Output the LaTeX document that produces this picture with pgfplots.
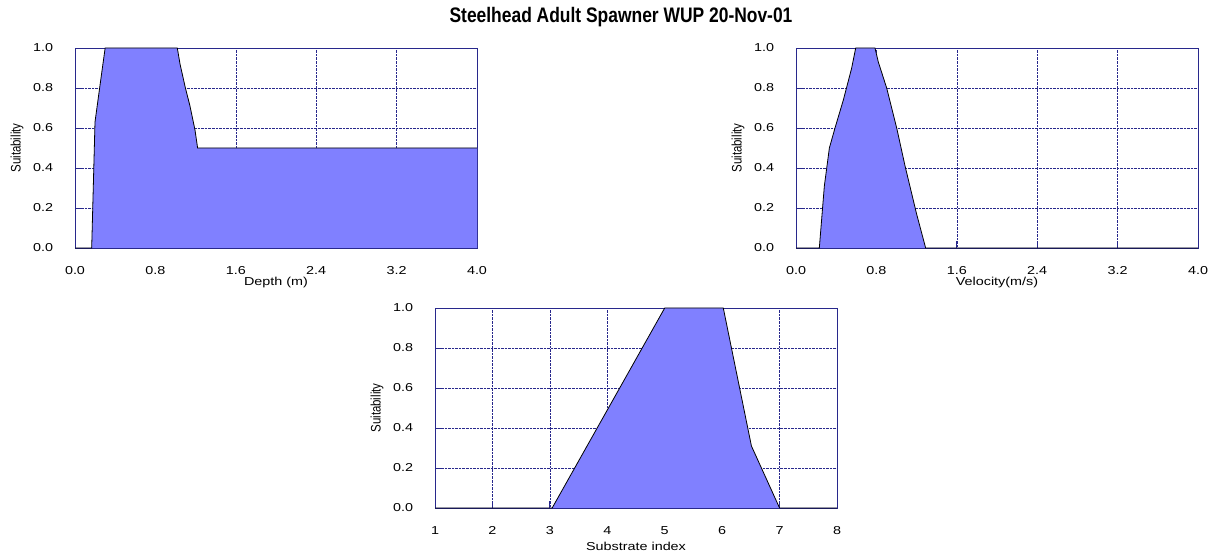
\documentclass[border=0pt]{standalone}
\usepackage{fontspec}
\setmainfont{Liberation Sans}
\usepackage{pgfplots}
\pgfplotsset{compat=1.18}
\definecolor{fillc}{RGB}{128,128,255}
\definecolor{framec}{RGB}{40,40,140}
\pgfplotsset{
  suit/.style={
    scale only axis, width=402bp, height=200bp,
    anchor=south west,
    ymin=0, ymax=1, ytick={0,0.2,...,1},
    axis line style={framec},
    grid=major,
    major grid style={densely dotted, framec},
    tick align=inside, xtick pos=bottom, ytick pos=left,
    major tick length=7bp,
    tick style={framec, thick},
    /pgf/number format/assume math mode=true,
    tick label style={font=\fontsize{11.5bp}{13bp}\selectfont, xscale=1.25},
    label style={font=\fontsize{11.5bp}{13bp}\selectfont},
    yticklabel style={/pgf/number format/fixed, /pgf/number format/fixed zerofill, /pgf/number format/precision=1, xshift=-14bp},
    xticklabel style={yshift=-15bp},
    ylabel={Suitability},
    ylabel style={at={(axis description cs:-0.144,0.5)}, anchor=center, yscale=1.2},
    xlabel style={at={(axis description cs:0.5,-0.172)}, anchor=center, xscale=1.25},
    clip=false,
  }
}
\begin{document}
\begin{tikzpicture}
\useasboundingbox (0,0) rectangle (1220bp,559bp);
\node[font=\bfseries\fontsize{21bp}{23bp}\selectfont, xscale=0.83] at (621bp,542bp) {Steelhead Adult Spawner WUP 20-Nov-01};

\begin{axis}[suit, at={(75bp,311bp)}, xmin=0, xmax=4, xtick={0,0.8,...,4},
  xticklabel style={/pgf/number format/fixed, /pgf/number format/fixed zerofill, /pgf/number format/precision=1},
  xlabel={Depth (m)}]
\addplot[fill=fillc, draw=none] coordinates {(0,0) (0.166,0) (0.199,0.63) (0.265,0.873) (0.30,1.0) (1.018,1.0) (1.045,0.92) (1.094,0.81) (1.144,0.71) (1.194,0.59) (1.22,0.5) (4.0,0.5) (4.0,0)} \closedcycle;
\addplot[black, thick] coordinates {(0,0) (0.166,0) (0.199,0.63) (0.265,0.873) (0.30,1.0) (1.018,1.0) (1.045,0.92) (1.094,0.81) (1.144,0.71) (1.194,0.59) (1.22,0.5) (4.0,0.5)};
\end{axis}

\begin{axis}[suit, at={(796bp,311bp)}, xmin=0, xmax=4, xtick={0,0.8,...,4},
  xticklabel style={/pgf/number format/fixed, /pgf/number format/fixed zerofill, /pgf/number format/precision=1},
  xlabel={Velocity(m/s)}]
\addplot[fill=fillc, draw=none] coordinates {(0,0) (0.232,0) (0.282,0.31) (0.332,0.50) (0.388,0.60) (0.471,0.74) (0.554,0.90) (0.594,1.0) (0.786,1.0) (0.819,0.93) (0.902,0.80) (1.002,0.60) (1.085,0.41) (1.20,0.17) (1.29,0) (4.0,0)} \closedcycle;
\addplot[black, thick] coordinates {(0,0) (0.232,0) (0.282,0.31) (0.332,0.50) (0.388,0.60) (0.471,0.74) (0.554,0.90) (0.594,1.0) (0.786,1.0) (0.819,0.93) (0.902,0.80) (1.002,0.60) (1.085,0.41) (1.20,0.17) (1.29,0) (4.0,0)};
\end{axis}

\begin{axis}[suit, at={(435bp,51bp)}, xmin=1, xmax=8, xtick={1,...,8},
  xlabel={Substrate index},
  xlabel style={at={(axis description cs:0.5,-0.19)}}]
\addplot[fill=fillc, draw=none] coordinates {(1,0) (3.04,0) (5.0,1.0) (6.02,1.0) (6.51,0.31) (7.0,0) (8,0)} \closedcycle;
\addplot[black, thick] coordinates {(1,0) (3.04,0) (5.0,1.0) (6.02,1.0) (6.51,0.31) (7.0,0) (8,0)};
\end{axis}
\end{tikzpicture}
\end{document}
